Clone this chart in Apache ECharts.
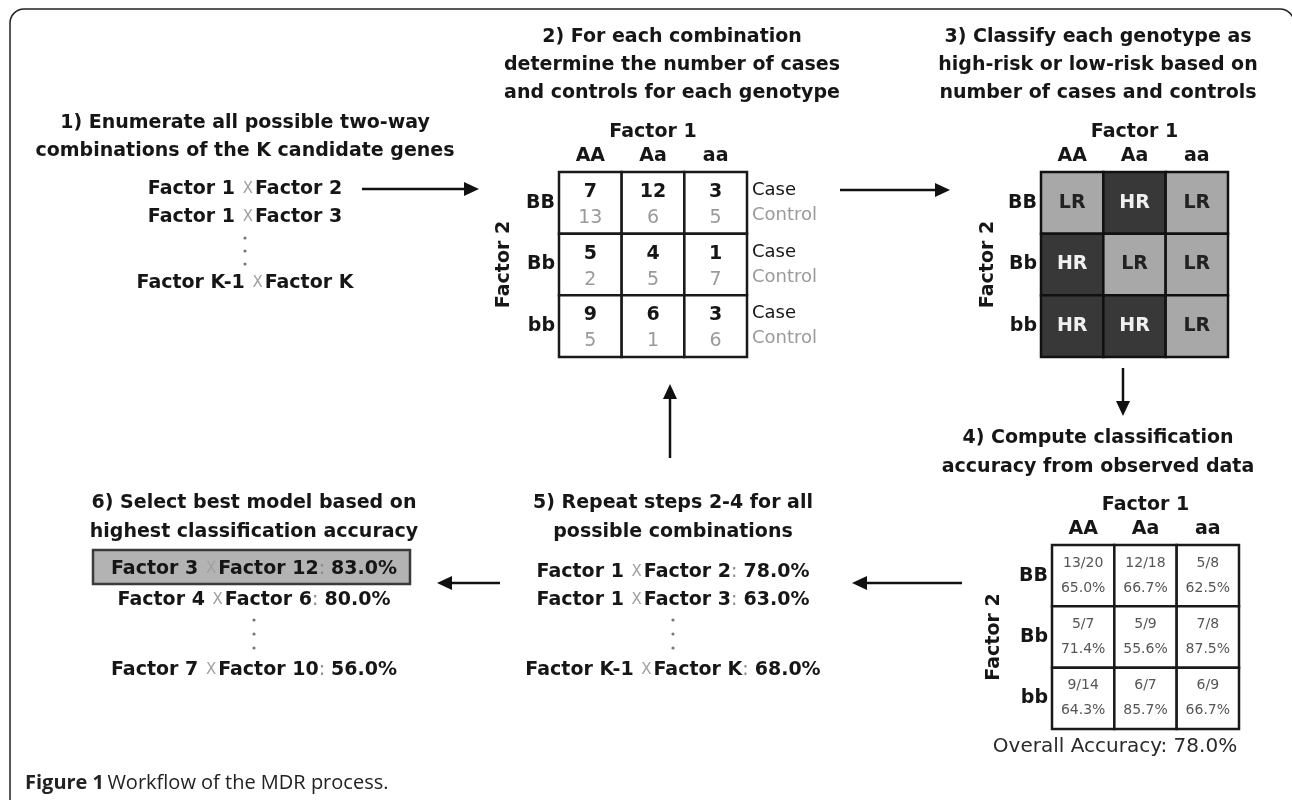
<!DOCTYPE html>
<html>
<head>
<meta charset="utf-8">
<script src="https://cdn.jsdelivr.net/npm/echarts@6/dist/echarts.min.js"></script>
<style>
html,body{margin:0;padding:0;background:#fff;}
#chart{width:1292px;height:800px;}
</style>
</head>
<body>
<div id="chart"></div>
<script>
// ---------------- DATA ----------------
const factor1Levels = ['AA', 'Aa', 'aa'];
const factor2Levels = ['BB', 'Bb', 'bb'];
const caseCounts = [[7, 12, 3], [5, 4, 1], [9, 6, 3]];
const controlCounts = [[13, 6, 5], [2, 5, 7], [5, 1, 6]];
const riskClass = [['LR', 'HR', 'LR'], ['HR', 'LR', 'LR'], ['HR', 'HR', 'LR']];
const accuracyFractions = [['13/20', '12/18', '5/8'], ['5/7', '5/9', '7/8'], ['9/14', '6/7', '6/9']];
const accuracyPercents = [['65.0%', '66.7%', '62.5%'], ['71.4%', '55.6%', '87.5%'], ['64.3%', '85.7%', '66.7%']];
const overallAccuracy = '78.0%';

const step1Title = ['1) Enumerate all possible two-way', 'combinations of the K candidate genes'];
const step2Title = ['2) For each combination', 'determine the number of cases', 'and controls for each genotype'];
const step3Title = ['3) Classify each genotype as', 'high-risk or low-risk based on', 'number of cases and controls'];
const step4Title = ['4) Compute classification', 'accuracy from observed data'];
const step5Title = ['5) Repeat steps 2-4 for all', 'possible combinations'];
const step6Title = ['6) Select best model based on', 'highest classification accuracy'];

const step1Pairs = [['Factor 1', 'Factor 2'], ['Factor 1', 'Factor 3'], ['Factor K-1', 'Factor K']];
const step5Pairs = [['Factor 1', 'Factor 2', '78.0%'], ['Factor 1', 'Factor 3', '63.0%'], ['Factor K-1', 'Factor K', '68.0%']];
const step6Pairs = [['Factor 3', 'Factor 12', '83.0%'], ['Factor 4', 'Factor 6', '80.0%'], ['Factor 7', 'Factor 10', '56.0%']];

const captionBold = 'Figure 1';
const captionText = 'Workflow of the MDR process.';

// ---------------- STYLE ----------------
const FONT = 'DejaVu Sans';
const INK = '#161616';
const TITLE_SIZE = 19;

function cellData() {
  const out = [];
  for (let i = 0; i < factor2Levels.length; i++)
    for (let j = 0; j < factor1Levels.length; j++) out.push([j, i]);
  return out;
}

function titleGraphic(lines, cx, y0, step) {
  return lines.map((t, k) => ({
    type: 'text', x: cx, y: y0 + k * step, silent: true,
    style: { text: t, fontFamily: FONT, fontWeight: 'bold', fontSize: TITLE_SIZE, fill: INK, align: 'center', verticalAlign: 'middle' }
  }));
}

const richPair = {
  b: { fontFamily: FONT, fontWeight: 'bold', fontSize: TITLE_SIZE, fill: INK },
  x: { fontFamily: FONT, fontWeight: 'normal', fontSize: 15, fill: '#a0a0a0', padding: [0, 2, 0, 1] },
  c: { fontFamily: FONT, fontWeight: 'normal', fontSize: TITLE_SIZE, fill: '#8a8a8a' }
};

function pairText(p) {
  let s = '{b|' + p[0] + ' }{x|X}{b|' + p[1] + '}';
  if (p[2]) s += '{c|:} {b|' + p[2] + '}';
  return s;
}

function pairListGraphic(pairs, cx, ys, dotYs) {
  const g = [];
  pairs.forEach((p, k) => {
    g.push({ type: 'text', x: cx, y: ys[k], silent: true, z: 5,
      style: { text: pairText(p), rich: richPair, fontFamily: FONT, fontSize: TITLE_SIZE, align: 'center', verticalAlign: 'middle' } });
  });
  dotYs.forEach(y => g.push({ type: 'circle', shape: { cx: cx, cy: y, r: 1.6 }, style: { fill: '#777' }, silent: true }));
  return g;
}

function arrow(x1, y1, x2, y2) {
  const ang = Math.atan2(y2 - y1, x2 - x1);
  const L = 15, W = 7;
  const bx = x2 - L * Math.cos(ang), by = y2 - L * Math.sin(ang);
  const px = -Math.sin(ang) * W, py = Math.cos(ang) * W;
  return [
    { type: 'line', shape: { x1: x1, y1: y1, x2: bx, y2: by }, style: { stroke: '#111', lineWidth: 2.5 }, silent: true },
    { type: 'polygon', shape: { points: [[x2, y2], [bx + px, by + py], [bx - px, by - py]] }, style: { fill: '#111' }, silent: true }
  ];
}

// ---------------- AXES ----------------
const axisLabelStyle = { fontFamily: FONT, fontWeight: 'bold', fontSize: 19, color: INK };
function xAx(gi) {
  return { type: 'category', gridIndex: gi, data: factor1Levels, position: 'top',
    axisLine: { show: false }, axisTick: { show: false }, splitLine: { show: false },
    axisLabel: Object.assign({ margin: 6 }, axisLabelStyle),
    name: 'Factor 1', nameLocation: 'middle', nameGap: 30,
    nameTextStyle: { fontFamily: FONT, fontWeight: 'bold', fontSize: 19, color: INK } };
}
function yAx(gi, gap) {
  return { type: 'category', gridIndex: gi, data: factor2Levels, inverse: true,
    axisLine: { show: false }, axisTick: { show: false }, splitLine: { show: false },
    axisLabel: Object.assign({ margin: 4 }, axisLabelStyle),
    name: 'Factor 2', nameLocation: 'middle', nameGap: gap, nameRotate: 90,
    nameTextStyle: { fontFamily: FONT, fontWeight: 'bold', fontSize: 19, color: INK } };
}

// ---------------- SERIES ----------------
function cellRect(api) {
  const c = api.coord([api.value(0), api.value(1)]);
  const s = api.size([1, 1]);
  return { c: c, s: s, x: c[0] - s[0] / 2, y: c[1] - s[1] / 2 };
}

const countsSeries = {
  type: 'custom', xAxisIndex: 0, yAxisIndex: 0, data: cellData(),
  renderItem: function (params, api) {
    const r = cellRect(api);
    const i = api.value(1), j = api.value(0);
    return { type: 'group', children: [
      { type: 'rect', shape: { x: r.x, y: r.y, width: r.s[0], height: r.s[1] }, style: { fill: '#fff', stroke: '#1a1a1a', lineWidth: 2.5 } },
      { type: 'text', x: r.c[0], y: r.y + 20, style: { text: String(caseCounts[i][j]), fontFamily: FONT, fontWeight: 'bold', fontSize: 19, fill: INK, align: 'center', verticalAlign: 'middle' } },
      { type: 'text', x: r.c[0], y: r.y + 46, style: { text: String(controlCounts[i][j]), fontFamily: FONT, fontWeight: 'normal', fontSize: 19, fill: '#9a9a9a', align: 'center', verticalAlign: 'middle' } }
    ] };
  }
};

const riskSeries = {
  type: 'custom', xAxisIndex: 1, yAxisIndex: 2, data: cellData(),
  renderItem: function (params, api) {
    const r = cellRect(api);
    const i = api.value(1), j = api.value(0);
    const hr = riskClass[i][j] === 'HR';
    return { type: 'group', children: [
      { type: 'rect', shape: { x: r.x, y: r.y, width: r.s[0], height: r.s[1] }, style: { fill: hr ? '#383838' : '#a8a8a8', stroke: '#111', lineWidth: 2.5 } },
      { type: 'text', x: r.c[0], y: r.c[1], style: { text: riskClass[i][j], fontFamily: FONT, fontWeight: 'bold', fontSize: 19, fill: hr ? '#f0f0f0' : '#222', align: 'center', verticalAlign: 'middle' } }
    ] };
  }
};

const accSeries = {
  type: 'custom', xAxisIndex: 2, yAxisIndex: 3, data: cellData(),
  renderItem: function (params, api) {
    const r = cellRect(api);
    const i = api.value(1), j = api.value(0);
    return { type: 'group', children: [
      { type: 'rect', shape: { x: r.x, y: r.y, width: r.s[0], height: r.s[1] }, style: { fill: '#fff', stroke: '#1a1a1a', lineWidth: 2.5 } },
      { type: 'text', x: r.c[0], y: r.y + 18, style: { text: accuracyFractions[i][j], fontFamily: FONT, fontSize: 14, fill: '#555', align: 'center', verticalAlign: 'middle' } },
      { type: 'text', x: r.c[0], y: r.y + 43, style: { text: accuracyPercents[i][j], fontFamily: FONT, fontSize: 14, fill: '#555', align: 'center', verticalAlign: 'middle' } }
    ] };
  }
};

// ---------------- GRAPHICS ----------------
let graphics = [];
graphics.push({ type: 'rect', shape: { x: 10, y: 9, width: 1284, height: 840, r: 14 }, style: { fill: 'none', stroke: '#222', lineWidth: 1.5 }, silent: true });
graphics = graphics.concat(titleGraphic(step1Title, 245, 123, 28));
graphics = graphics.concat(pairListGraphic(step1Pairs, 245, [189, 217, 283], [238, 251, 264]));
graphics = graphics.concat(titleGraphic(step2Title, 672, 37, 28));
graphics = graphics.concat(titleGraphic(step3Title, 1098, 37, 28));
graphics = graphics.concat(titleGraphic(step4Title, 1098, 438, 29));
graphics = graphics.concat(titleGraphic(step5Title, 673, 503, 29));
graphics = graphics.concat(titleGraphic(step6Title, 254, 503, 29));
graphics.push({ type: 'rect', shape: { x: 93, y: 550, width: 317, height: 34 }, style: { fill: '#b3b3b3', stroke: '#3a3a3a', lineWidth: 2.5 }, silent: true });
graphics = graphics.concat(pairListGraphic(step5Pairs, 673, [572, 600, 670], [620, 634, 648]));
graphics = graphics.concat(pairListGraphic(step6Pairs, 254, [569, 600, 670], [620, 634, 648]));
graphics.push({ type: 'text', x: 1115, y: 747, silent: true,
  style: { text: 'Overall Accuracy: ' + overallAccuracy, fontFamily: FONT, fontSize: 20, fill: '#2a2a2a', align: 'center', verticalAlign: 'middle' } });
graphics.push({ type: 'text', x: 25, y: 783, silent: true,
  style: { text: '{b|' + captionBold + '} {n|' + captionText + '}', verticalAlign: 'middle', align: 'left',
    rich: { b: { fontFamily: 'Open Sans', fontWeight: 'bold', fontSize: 20, fill: '#222' }, n: { fontFamily: 'Open Sans', fontWeight: 'normal', fontSize: 20, fill: '#222' } } } });
graphics = graphics.concat(arrow(362, 189, 479, 189));
graphics = graphics.concat(arrow(840, 190, 950, 190));
graphics = graphics.concat(arrow(1123, 368, 1123, 416));
graphics = graphics.concat(arrow(962, 583, 852, 583));
graphics = graphics.concat(arrow(670, 458, 670, 384));
graphics = graphics.concat(arrow(500, 583, 437, 583));

// ---------------- OPTION ----------------
const option = {
  backgroundColor: '#fff',
  animation: false,
  grid: [
    { left: 559, top: 172, width: 188, height: 185 },
    { left: 1041, top: 172, width: 187, height: 185 },
    { left: 1052, top: 545, width: 187, height: 184 }
  ],
  xAxis: [xAx(0), xAx(1), xAx(2)],
  yAxis: [
    yAx(0, 45),
    { type: 'category', gridIndex: 0, data: factor2Levels, inverse: true, position: 'right',
      axisLine: { show: false }, axisTick: { show: false }, splitLine: { show: false },
      axisLabel: { margin: 5, align: 'left',
        formatter: function () { return '{c|Case}\n{k|Control}'; },
        rich: { c: { fontFamily: FONT, fontSize: 18, color: INK, lineHeight: 25 }, k: { fontFamily: FONT, fontSize: 18, color: '#9a9a9a', lineHeight: 25 } } } },
    yAx(1, 43),
    yAx(2, 48)
  ],
  series: [countsSeries, riskSeries, accSeries],
  graphic: graphics
};

const chart = echarts.init(document.getElementById('chart'));
chart.setOption(option);
</script>
</body>
</html>
